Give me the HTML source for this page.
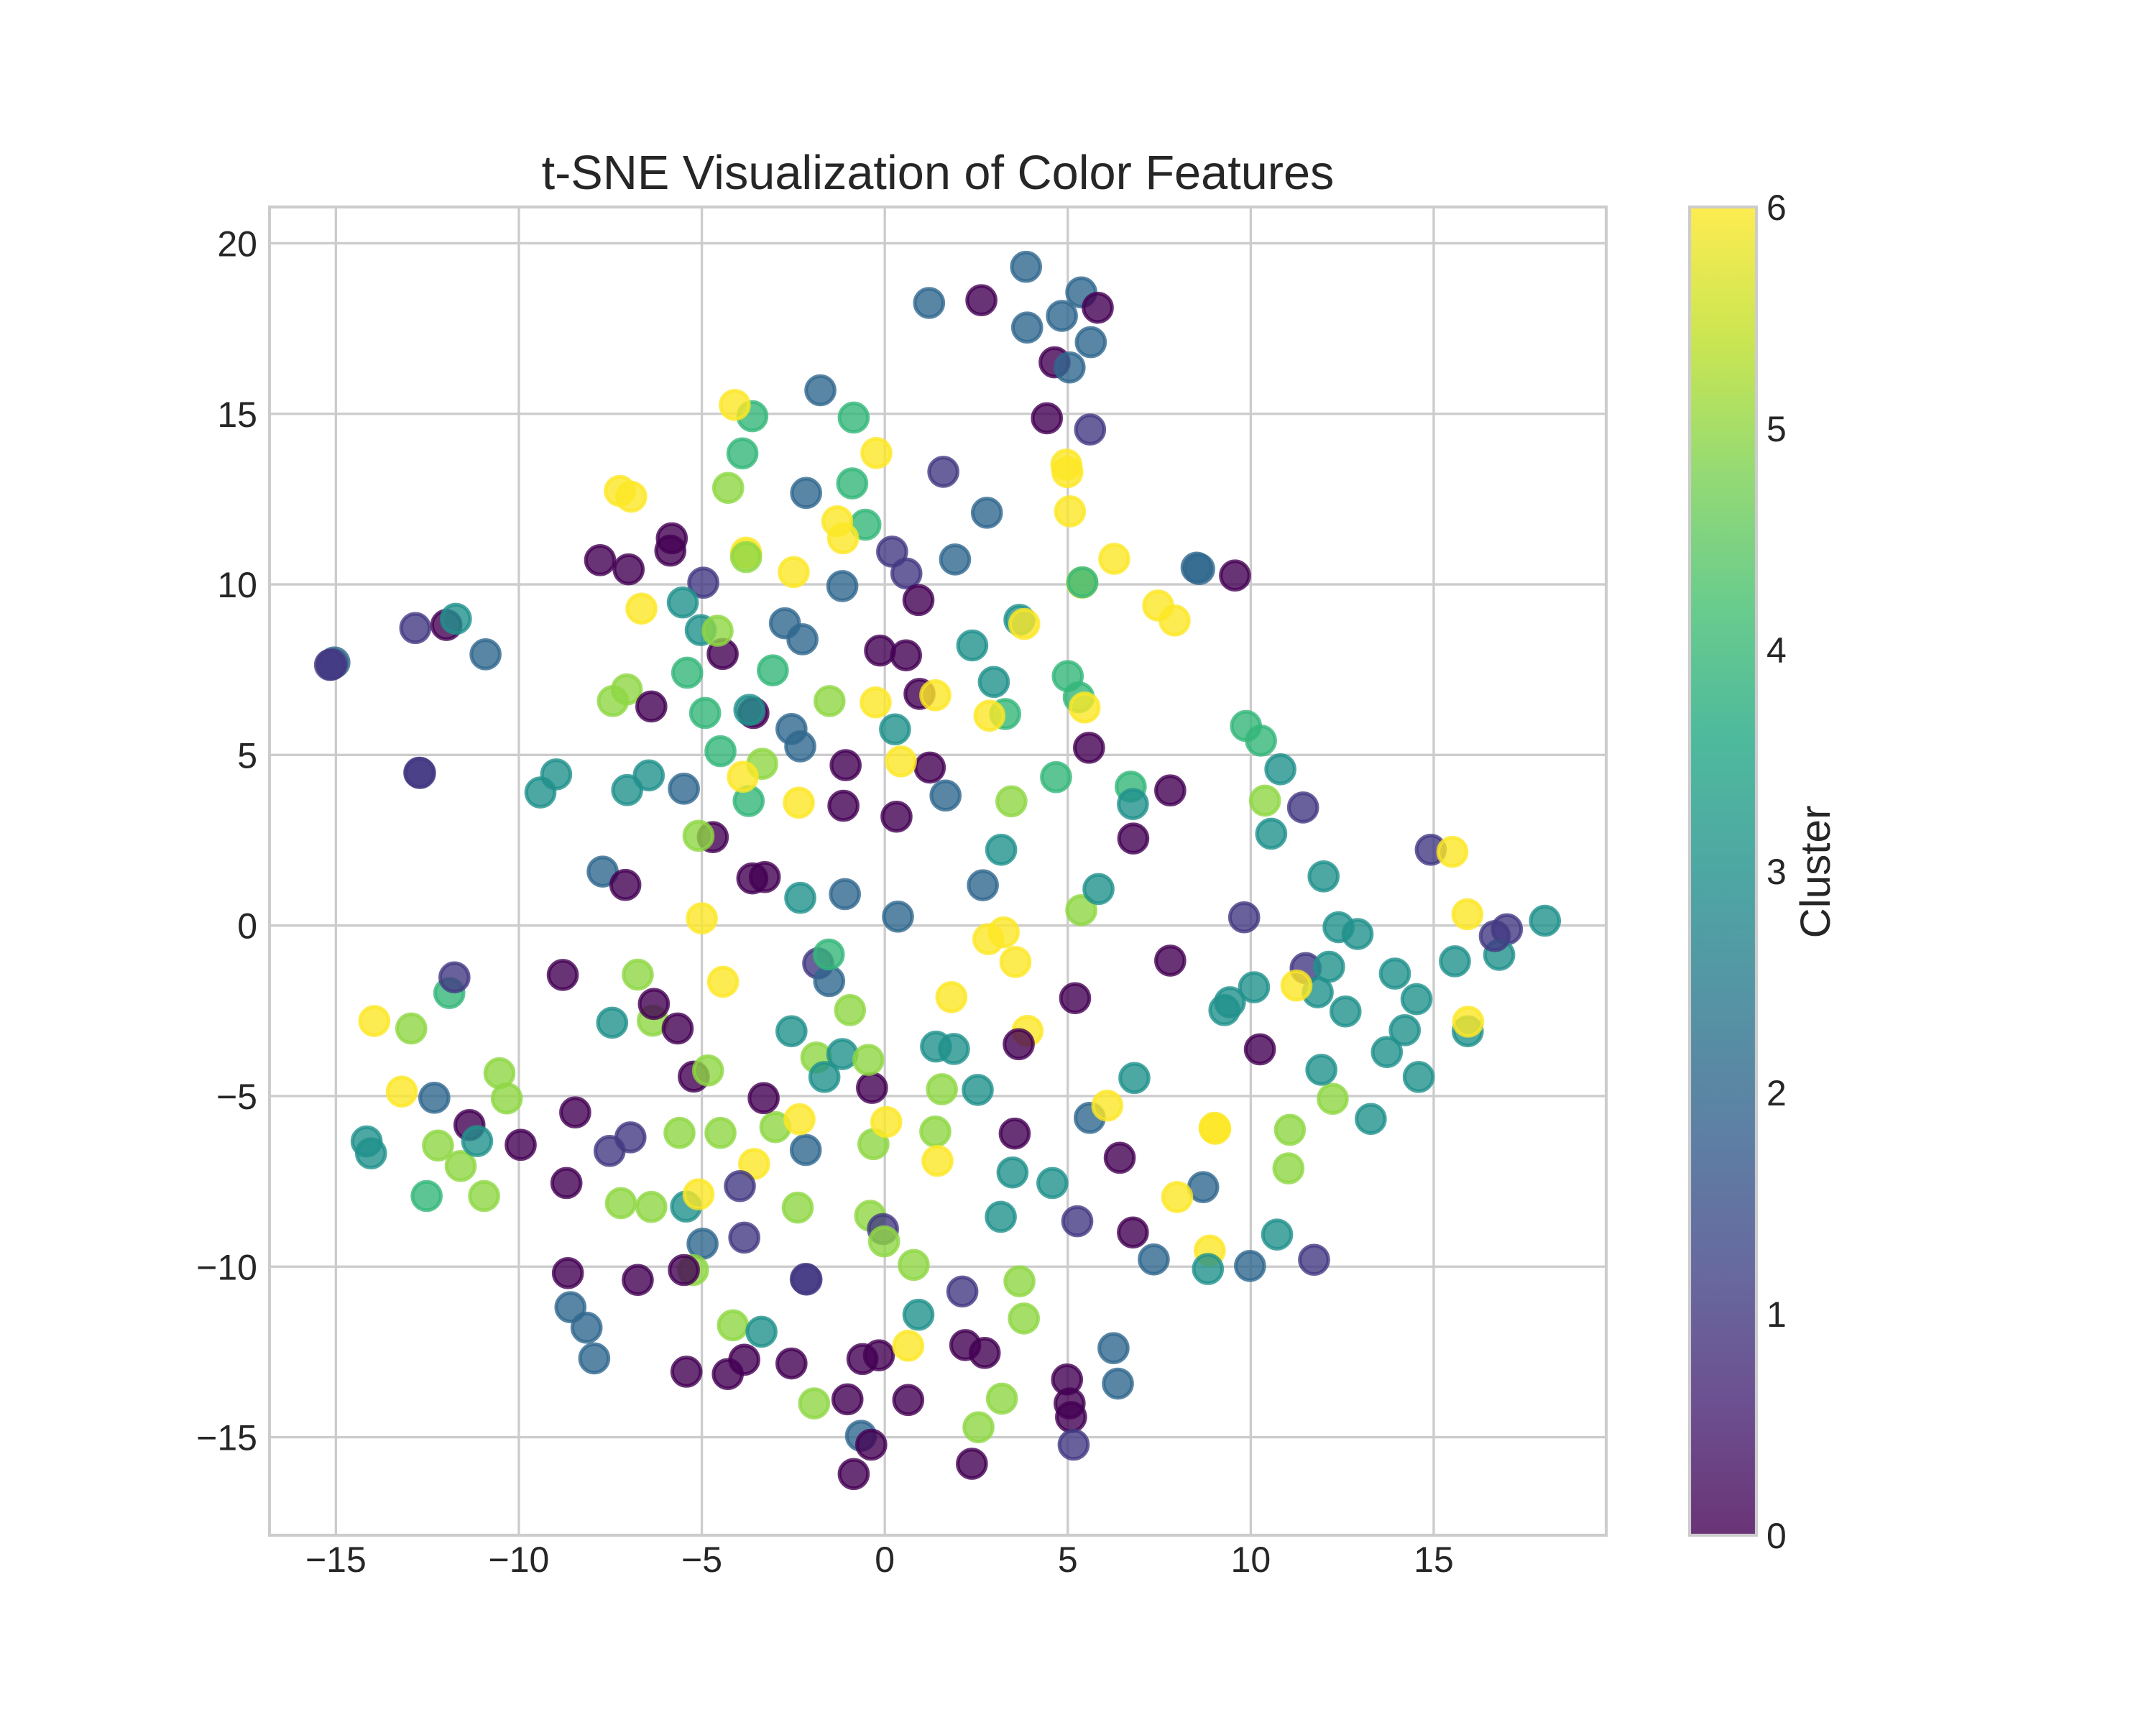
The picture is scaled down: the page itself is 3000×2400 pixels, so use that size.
<!DOCTYPE html>
<html lang="en">
<head>
<meta charset="utf-8">
<title>t-SNE Visualization of Color Features</title>
<style>
html,body{margin:0;padding:0;background:#ffffff;}
svg{display:block;}
text{font-family:"Liberation Sans",Arial,sans-serif;fill:#262626;}
</style>
</head>
<body>
<svg id="chart" xmlns="http://www.w3.org/2000/svg" width="3000" height="2400" viewBox="0 0 3000 2400">
  <defs>
    <linearGradient id="viridis-gradient" x1="0" y1="1" x2="0" y2="0">
      <stop offset="0" stop-color="#440154"/>
      <stop offset="0.1" stop-color="#482475"/>
      <stop offset="0.2" stop-color="#414487"/>
      <stop offset="0.3" stop-color="#355f8d"/>
      <stop offset="0.4" stop-color="#2a788e"/>
      <stop offset="0.5" stop-color="#21918c"/>
      <stop offset="0.6" stop-color="#22a884"/>
      <stop offset="0.7" stop-color="#44bf70"/>
      <stop offset="0.8" stop-color="#7ad151"/>
      <stop offset="0.9" stop-color="#bddf26"/>
      <stop offset="1" stop-color="#fde725"/>
    </linearGradient>
  </defs>
  <rect x="0" y="0" width="3000" height="2400" fill="#ffffff"/>
  <g id="grid"></g>
  <g id="marks"></g>
  <rect x="375" y="288" width="1860" height="1848" fill="none" stroke="#cccccc" stroke-width="4.17"/>
  <g id="x-ticks"></g>
  <g id="y-ticks"></g>
  <text x="1305" y="263" font-size="66.67" text-anchor="middle">t-SNE Visualization of Color Features</text>
  <rect x="2351" y="288" width="93" height="1848" fill="url(#viridis-gradient)" fill-opacity="0.8"/>
  <rect x="2351" y="288" width="93" height="1848" fill="none" stroke="#cccccc" stroke-width="4.17"/>
  <g id="cbar-ticks"></g>
  <text transform="translate(2546,1213) rotate(-90)" font-size="58.33" text-anchor="middle">Cluster</text>
</svg>
<script>
const xTicks = [-15, -10, -5, 0, 5, 10, 15];
const yTicks = [-15, -10, -5, 0, 5, 10, 15, 20];
const colorbarTicks = [0, 1, 2, 3, 4, 5, 6];
const clusterColors = ['#440154', '#443983', '#31688e', '#21918c', '#35b779', '#8fd744', '#fde725'];

const cluster4Points = [[-3.62,14.93],[-0.85,14.89],[-3.89,13.84],[-0.89,12.96],[-0.53,11.75],[-5.40,7.41],[-4.91,6.23],[-4.49,5.11],[-3.06,7.48],[5.00,7.31],[5.30,6.69],[3.29,6.20],[4.68,4.35],[6.72,4.07],[-3.72,3.65],[9.87,5.85],[10.28,5.42],[-11.90,-1.98],[-12.52,-7.93]];
const cluster2Points = [[3.86,19.31],[1.21,18.25],[5.37,18.56],[4.84,17.87],[3.89,17.53],[5.63,17.10],[-1.76,15.69],[-2.15,12.68],[2.79,12.10],[1.92,10.73],[-1.16,9.95],[-2.73,8.86],[-2.25,8.39],[-2.55,5.76],[-2.31,5.25],[1.66,3.81],[-1.09,0.92],[2.68,1.18],[0.36,0.26],[8.52,10.49],[8.59,10.45],[-5.49,4.01],[-7.71,1.58],[-10.91,7.95],[-15.04,7.71],[-2.16,-6.58],[5.60,-5.64],[7.35,-9.79],[6.25,-12.39],[6.37,-13.43],[-0.65,-14.96],[8.70,-7.67],[9.98,-9.98],[-12.31,-5.05],[-4.98,-9.33],[-8.59,-11.19],[-8.15,-11.79],[-7.94,-12.69]];
const cluster1Points = [[-15.16,7.64],[-15.12,7.65],[-12.83,8.72],[-12.72,4.48],[-12.70,4.47],[-4.96,10.05],[5.61,14.54],[1.60,13.30],[0.20,10.96],[0.59,10.32],[11.43,3.46],[14.92,2.22],[9.82,0.24],[17.00,-0.11],[11.50,-1.25],[-1.82,-1.11],[5.26,-8.67],[-3.84,-9.15],[-2.16,-10.36],[-2.14,-10.38],[2.12,-10.73],[11.73,-9.80],[-11.76,-1.52],[-6.95,-6.21],[-7.52,-6.61]];
const cluster5Points = [[-7.05,6.92],[-7.43,6.58],[-4.28,12.83],[-1.51,6.58],[-3.35,4.74],[3.46,3.64],[5.37,0.45],[10.39,3.66],[12.24,-5.08],[11.07,-5.99],[11.03,-7.12],[-0.95,-2.48],[-1.87,-3.87],[1.56,-4.80],[-4.49,-6.08],[-2.99,-5.91],[-0.31,-6.41],[1.38,-6.04],[-2.38,-8.27],[-0.40,-8.51],[0.79,-9.95],[3.68,-10.43],[3.80,-11.52],[-4.15,-11.72],[-1.93,-14.01],[3.20,-13.87],[2.56,-14.71],[-6.75,-1.44],[-6.34,-2.79],[-12.94,-3.02],[-10.53,-4.33],[-10.33,-5.07],[-12.21,-6.45],[-11.59,-7.05],[-10.95,-7.93],[-5.61,-6.08],[-7.21,-8.14],[-6.38,-8.25],[-5.24,-10.10]];
const cluster0Points = [[2.64,18.33],[4.64,16.51],[4.43,14.87],[-5.82,11.35],[-5.86,10.99],[-7.78,10.71],[-7.00,10.44],[-11.98,8.81],[-4.43,7.96],[-6.38,6.42],[-4.70,2.59],[-7.09,1.19],[0.92,9.54],[-0.13,8.06],[0.58,7.92],[0.95,6.79],[-3.59,6.23],[5.58,5.21],[-1.07,4.70],[1.23,4.63],[7.80,3.96],[-1.13,3.51],[0.32,3.19],[6.79,2.55],[-3.62,1.38],[-3.28,1.42],[9.57,10.26],[7.80,-1.03],[10.25,-3.63],[5.20,-2.13],[-0.35,-4.76],[-3.31,-5.06],[3.55,-6.10],[6.42,-6.81],[6.78,-9.00],[-3.84,-12.73],[-4.29,-13.15],[-2.55,-12.84],[-0.61,-12.71],[-0.16,-12.60],[2.20,-12.30],[2.73,-12.53],[4.98,-13.31],[5.05,-14.01],[5.09,-14.41],[-1.02,-13.89],[0.64,-13.91],[-0.37,-15.22],[-0.85,-16.08],[2.38,-15.78],[-8.80,-1.45],[-6.31,-2.30],[-5.66,-3.02],[-5.22,-4.43],[-11.35,-5.85],[-9.95,-6.43],[-8.46,-5.48],[-8.70,-7.55],[-8.66,-10.19],[-6.75,-10.39],[-5.49,-10.10],[-5.42,-13.08]];
const cluster3Points = [[-11.72,8.99],[-5.52,9.47],[-5.03,8.66],[-8.98,4.43],[-9.41,3.90],[-6.45,4.40],[-7.04,3.97],[3.68,8.96],[2.39,8.21],[2.98,7.14],[-3.70,6.32],[0.28,5.75],[6.78,3.56],[3.18,2.22],[-2.31,0.81],[5.84,1.07],[10.81,4.58],[10.56,2.69],[11.99,1.44],[18.04,0.14],[12.40,-0.05],[12.92,-0.25],[16.79,-0.86],[15.58,-1.05],[12.14,-1.21],[13.94,-1.41],[14.53,-2.16],[10.09,-1.81],[9.43,-2.25],[9.28,-2.48],[11.83,-1.96],[12.59,-2.52],[15.93,-3.10],[14.21,-3.07],[13.72,-3.71],[14.59,-4.44],[11.93,-4.23],[13.28,-5.67],[10.72,-9.06],[-2.55,-3.10],[-1.16,-3.77],[-1.65,-4.44],[1.40,-3.55],[1.89,-3.62],[2.54,-4.82],[6.82,-4.47],[3.49,-7.24],[4.58,-7.55],[3.17,-8.54],[0.92,-11.41],[-3.37,-11.91],[-7.45,-2.85],[-11.14,-6.32],[-14.16,-6.33],[-14.04,-6.68],[-5.43,-8.24]];
const cluster6Points = [[-7.24,12.74],[-6.93,12.57],[-6.65,9.29],[-5.00,0.21],[-4.10,15.26],[-0.23,13.85],[4.96,13.51],[4.99,13.29],[5.06,12.14],[-1.30,11.85],[-1.14,11.35],[-3.79,10.93],[-2.49,10.36],[6.27,10.75],[5.39,10.05],[7.47,9.38],[7.92,8.94],[3.81,8.84],[1.38,6.75],[-0.25,6.54],[5.46,6.39],[2.86,6.15],[-3.88,4.36],[0.44,4.81],[-2.35,3.60],[15.51,2.16],[15.92,0.33],[11.25,-1.76],[15.94,-2.82],[9.01,-5.93],[9.03,-5.96],[7.99,-7.96],[8.88,-9.53],[2.83,-0.40],[3.25,-0.20],[3.57,-1.07],[-4.42,-1.65],[1.82,-2.10],[3.90,-3.09],[6.08,-5.28],[-2.33,-5.68],[-3.57,-6.99],[0.04,-5.76],[1.44,-6.90],[0.64,-12.32],[-13.95,-2.80],[-13.20,-4.87],[-5.09,-7.88]];
/* Points drawn last, as [x, y, cluster], because they sit on top of their neighbours. */
const topmostPoints = [[5.40,10.06,4],[-1.52,-1.63,2],[-1.53,-0.85,4],[5.05,16.36,2],[-3.96,-7.64,1],[-0.05,-8.90,1],[5.16,-15.22,1],[16.67,-0.31,1],[-3.79,10.80,5],[-4.57,8.64,5],[-4.83,-4.25,5],[-0.45,-3.94,5],[-0.02,-9.26,5],[-5.09,2.63,5],[5.82,18.11,0],[3.66,-3.48,0],[8.83,-10.07,3]];

const SVG_NS = 'http://www.w3.org/2000/svg';
const plotLeft = 375, plotRight = 2235, plotTop = 288, plotBottom = 2136;
const xDomainMin = -16.814, xDomainMax = 19.714, yDomainMin = -17.875, yDomainMax = 21.063;
const colorbarMin = 0, colorbarMax = 6;

function xScale(v) {
  return plotLeft + (v - xDomainMin) / (xDomainMax - xDomainMin) * (plotRight - plotLeft);
}
function yScale(v) {
  return plotBottom - (v - yDomainMin) / (yDomainMax - yDomainMin) * (plotBottom - plotTop);
}
function colorbarScale(v) {
  return plotBottom - (v - colorbarMin) / (colorbarMax - colorbarMin) * (plotBottom - plotTop);
}
function formatTick(v) {
  return v < 0 ? '\u2212' + Math.abs(v) : String(v);
}
function makeLine(x1, y1, x2, y2) {
  const line = document.createElementNS(SVG_NS, 'line');
  line.setAttribute('x1', x1);
  line.setAttribute('y1', y1);
  line.setAttribute('x2', x2);
  line.setAttribute('y2', y2);
  line.setAttribute('stroke', '#cccccc');
  line.setAttribute('stroke-width', '3.33');
  return line;
}
function makeLabel(x, y, anchor, content) {
  const t = document.createElementNS(SVG_NS, 'text');
  t.setAttribute('x', x);
  t.setAttribute('y', y);
  t.setAttribute('font-size', '50');
  t.setAttribute('text-anchor', anchor);
  t.textContent = content;
  return t;
}

const gridGroup = document.getElementById('grid');
const xTickGroup = document.getElementById('x-ticks');
const yTickGroup = document.getElementById('y-ticks');
const colorbarTickGroup = document.getElementById('cbar-ticks');
const marksGroup = document.getElementById('marks');

xTicks.forEach(function (v) {
  const line = makeLine(xScale(v), plotTop, xScale(v), plotBottom);
  
  
  gridGroup.appendChild(line);
  const label = makeLabel(xScale(v), 2187, 'middle', formatTick(v));
  
  
  xTickGroup.appendChild(label);
});

yTicks.forEach(function (v) {
  const line = makeLine(plotLeft, yScale(v), plotRight, yScale(v));
  
  
  gridGroup.appendChild(line);
  const label = makeLabel(358, yScale(v) + 18, 'end', formatTick(v));
  
  
  yTickGroup.appendChild(label);
});

colorbarTicks.forEach(function (v) {
  const label = makeLabel(2458, colorbarScale(v) + 18, 'start', formatTick(v));
  
  
  colorbarTickGroup.appendChild(label);
});

function drawPoint(x, y, cluster) {
  const c = document.createElementNS(SVG_NS, 'circle');
  c.setAttribute('cx', xScale(x));
  c.setAttribute('cy', yScale(y));
  c.setAttribute('r', '19.8');
  c.setAttribute('fill', clusterColors[cluster]);
  c.setAttribute('stroke', clusterColors[cluster]);
  c.setAttribute('fill-opacity', '0.8');
  c.setAttribute('stroke-opacity', '0.8');
  c.setAttribute('stroke-width', '5');
  
  
  marksGroup.appendChild(c);
}

cluster4Points.forEach(function (p) { drawPoint(p[0], p[1], 4); });
cluster2Points.forEach(function (p) { drawPoint(p[0], p[1], 2); });
cluster1Points.forEach(function (p) { drawPoint(p[0], p[1], 1); });
cluster5Points.forEach(function (p) { drawPoint(p[0], p[1], 5); });
cluster0Points.forEach(function (p) { drawPoint(p[0], p[1], 0); });
cluster3Points.forEach(function (p) { drawPoint(p[0], p[1], 3); });
cluster6Points.forEach(function (p) { drawPoint(p[0], p[1], 6); });
topmostPoints.forEach(function (p) { drawPoint(p[0], p[1], p[2]); });
</script>
</body>
</html>
